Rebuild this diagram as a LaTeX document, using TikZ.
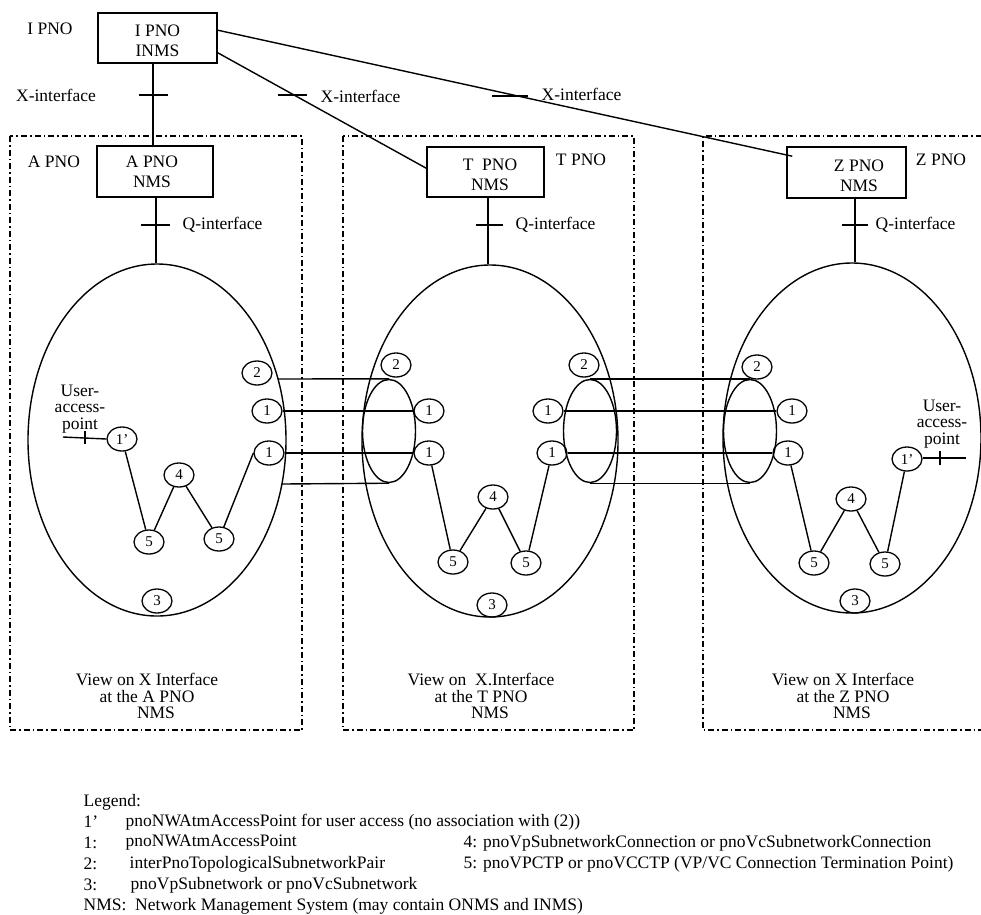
\documentclass[tikz,border=0pt]{standalone}
\usepackage{fontspec}
\setmainfont{Liberation Serif}
\usetikzlibrary{shapes.geometric,calc}
\begin{document}
\begin{tikzpicture}[x=1pt,y=-1pt,line width=1.4pt,
  every node/.style={font=\fontsize{17.5}{17.5}\selectfont, inner sep=0pt},
  nms/.style={draw, rectangle, line width=1.6pt},
  big/.style={draw, ellipse, line width=1.4pt},
  num/.style={draw, ellipse, minimum width=30pt, minimum height=24pt, inner sep=0pt, line width=1.3pt, font=\fontsize{15}{15}\selectfont},
  pairell/.style={draw, ellipse, line width=1.4pt, minimum width=53pt, minimum height=103pt},
  frame/.style={line width=1.5pt, dash pattern=on 6pt off 3pt on 1.5pt off 3pt},
  boxtxt/.style={align=center, font=\fontsize{17.5}{19.5}\selectfont},
  uap/.style={align=center, font=\fontsize{17.5}{16.5}\selectfont},
  leg/.style={anchor=west},
]
\fill[white] (0,0) rectangle (981,914);
\useasboundingbox (0,0) rectangle (981,914);

% dashed frames
\draw[frame] (10,136) rectangle (302,730);
\draw[frame] (343,136) rectangle (634,730);
\draw[frame] (995,136) -- (703,136) -- (703,730) -- (995,730);

% NMS boxes
\node[nms, minimum width=119pt, minimum height=50pt] (I) at (157.5,38) {};
\node[nms, minimum width=116pt, minimum height=51pt] (A) at (155,171.5) {};
\node[nms, minimum width=117pt, minimum height=50pt] (T) at (485.5,172) {};
\node[nms, minimum width=119pt, minimum height=51pt] (Z) at (846.5,172.5) {};
\node[boxtxt] (Itx) at (157.5,41) {I PNO\\INMS};
\node[boxtxt] (Atx) at (152,172) {A PNO\\NMS};
\node[boxtxt] (Ttx) at (490,175) {T\ \ PNO\\NMS};
\node[boxtxt] (Ztx) at (859,176) {Z PNO\\NMS};

% PNO labels
\node (lI) at (50,29) {I PNO};
\node (lA) at (54,162) {A PNO};
\node (lT) at (581,160) {T PNO};
\node (lZ) at (941,160) {Z PNO};

% big ellipses
\node[big, minimum width=258pt, minimum height=352pt] (EA) at (157,440) {};
\node[big, minimum width=256pt, minimum height=352pt] (ET) at (490,441) {};
\node[big, minimum width=258pt, minimum height=350pt] (EZ) at (852,438) {};

% X interfaces
\draw (I.south -| 153,0) -- (A.north -| 153,0);
\draw ($(I.south east)+(0,-11)$) -- ($(T.north west)+(0,22)$);
\draw ($(I.north east)+(0,18)$) -- ($(Z.north west)+(6,10)$);
\draw (139,95) -- (168,95);
\draw (278,95) -- (307,95);
\draw (492,96) -- (528,96);
\node (x1) at (56,95) {X-interface};
\node[anchor=west] (x2) at (320,96) {X-interface};
\node[anchor=west] (x3) at (541,94) {X-interface};

% Q interfaces
\draw (A.south -| 156,0) -- (EA.north -| 156,0);
\draw (T.south -| 488,0) -- (ET.north -| 488,0);
\draw (Z.south -| 855,0) -- (EZ.north -| 855,0);
\draw (141,225) -- (170,225);
\draw (476,225) -- (503,225);
\draw (842,225) -- (868,225);
\node[anchor=west] (q1) at (182,225) {Q-interface};
\node[anchor=west] (q2) at (515,225) {Q-interface};
\node[anchor=west] (q3) at (875,225) {Q-interface};

% pair ellipses
\node[pairell] (Tl) at (389,431) {};
\node[pairell] (Tr) at (590,431) {};
\node[pairell] (Zl) at (750,431) {};

% A contents
\node[num] (a2) at (257,373) {2};
\node[num] (a1u) at (267,411) {1};
\node[num] (a1l) at (269,453) {1};
\node[num] (a1p) at (122,439) {1’};
\node[num] (a4) at (179,475) {4};
\node[num] (a5l) at (149,542) {5};
\node[num] (a5r) at (219,539) {5};
\node[num] (a3) at (157,601) {3};
\draw (a1p) -- (a5l);
\draw (a5l) -- (a4);
\draw (a4) -- (a5r);
\draw (a5r) -- (a1l.west);
\node[uap] (uA) at (80,409) {User-\\access-\\point};
\coordinate (uAe) at (63,437);
\draw (uAe) -- (a1p.west);
\draw (85,431) -- (85,444);

% T contents
\node[num] (t2l) at (396,365) {2};
\node[num] (t1ul) at (429,411) {1};
\node[num] (t1ll) at (429,453) {1};
\node[num] (t2r) at (584,365) {2};
\node[num] (t1ur) at (548,411) {1};
\node[num] (t1lr) at (552,453) {1};
\node[num] (t4) at (493,497) {4};
\node[num] (t5l) at (453,562) {5};
\node[num] (t5r) at (526,563) {5};
\node[num] (t3) at (492,605) {3};
\draw (t1ll) -- (t5l);
\draw (t5l) -- (t4);
\draw (t4) -- (t5r);
\draw (t5r) -- (t1lr);

% Z contents
\node[num] (z2) at (757,367) {2};
\node[num] (z1u) at (792,411) {1};
\node[num] (z1l) at (788,453) {1};
\node[num] (z1p) at (907,459) {1’};
\node[num] (z4) at (851,499) {4};
\node[num] (z5l) at (814,563) {5};
\node[num] (z5r) at (885,564) {5};
\node[num] (z3) at (855,601) {3};
\draw (z1l) -- (z5l);
\draw (z5l) -- (z4);
\draw (z4) -- (z5r);
\draw (z5r) -- (z1p);
\node[uap] (uZ) at (942,424) {User-\\access-\\point};
\coordinate (uZe) at (966,458);
\draw (z1p.east |- uZe) -- (uZe);
\draw (940,451) -- (940,465);

% connections A - T
\coordinate (ea1) at (278,379);
\coordinate (ea2) at (282,484);
\draw (ea1) -- (Tl.north);
\draw (a1u.east) -- (t1ul.west);
\draw (a1l.east) -- (t1ll.west);
\draw (ea2) -- (Tl.south);
% connections T - Z
\draw (Tr.north) -- (Zl.north);
\draw (t1ur.east) -- (z1u.west);
\draw (t1lr.east) -- (z1l.west);
\draw (Tr.south) -- (Zl.south);

% view texts
\node (va1) at (147,679) {View on X Interface};
\node (va2) at (147,696) {at the A PNO};
\node (va3) at (156,713) {NMS};
\node (vt1) at (481,679) {View on\ \ X.Interface};
\node (vt2) at (481,696) {at the T PNO};
\node (vt3) at (490,713) {NMS};
\node (vz1) at (843,679) {View on X Interface};
\node (vz2) at (843,696) {at the Z PNO};
\node (vz3) at (852,713) {NMS};

% legend
\node[leg] (lg0) at (83,802) {Legend:};
\node[leg] (lg1a) at (83,822) {1’};
\node[leg] (lg1b) at (125,822) {pnoNWAtmAccessPoint for user access (no association with (2))};
\node[leg] (lg2a) at (83,843) {1:};
\node[leg] (lg2b) at (125,843) {pnoNWAtmAccessPoint};
\node[leg] (lg3a) at (83,864) {2:};
\node[leg] (lg3b) at (129,864) {interPnoTopologicalSubnetworkPair};
\node[leg] (lg4a) at (83,885) {3:};
\node[leg] (lg4b) at (130,885) {pnoVpSubnetwork or pnoVcSubnetwork};
\node[leg] (lg5) at (83,906) {NMS:\ \ Network Management System (may contain ONMS and INMS)};
\node[leg] (lg6) at (463,843) {4: pnoVpSubnetworkConnection or pnoVcSubnetworkConnection};
\node[leg] (lg7) at (463,864) {5: pnoVPCTP or pnoVCCTP (VP/VC Connection Termination Point)};
\end{tikzpicture}
\end{document}
